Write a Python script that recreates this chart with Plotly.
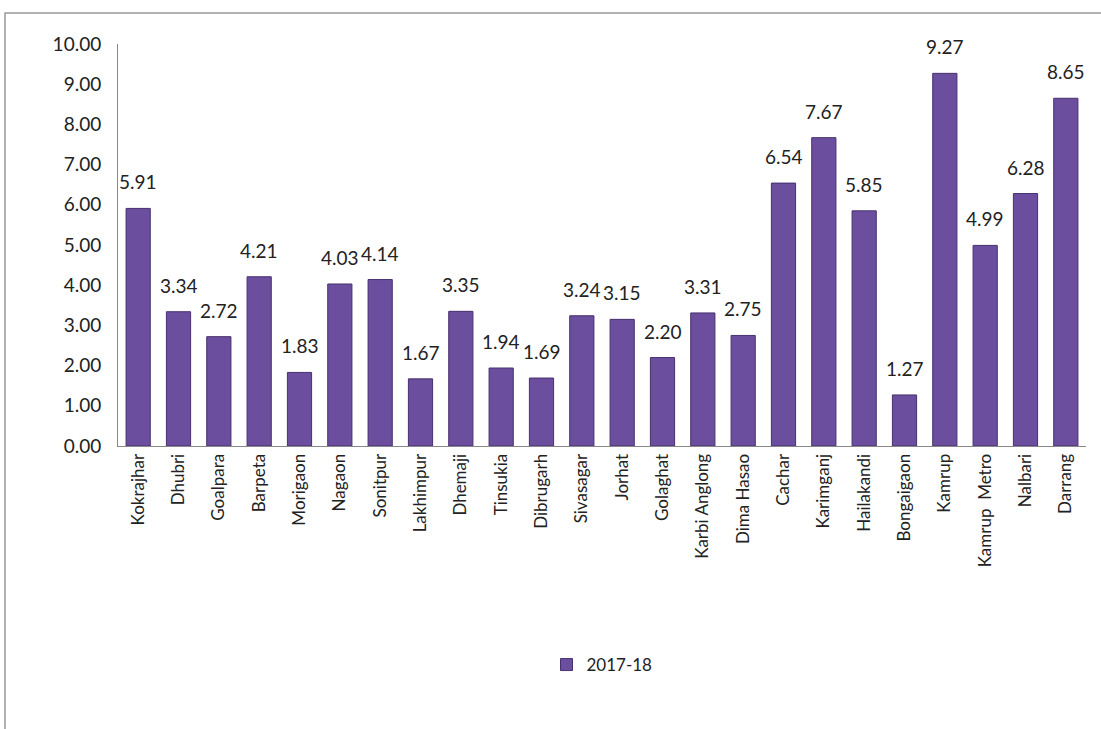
import plotly.graph_objects as go

districts = ["Kokrajhar", "Dhubri", "Goalpara", "Barpeta", "Morigaon", "Nagaon", "Sonitpur",
             "Lakhimpur", "Dhemaji", "Tinsukia", "Dibrugarh", "Sivasagar", "Jorhat", "Golaghat",
             "Karbi Anglong", "Dima Hasao", "Cachar", "Karimganj", "Hailakandi", "Bongaigaon",
             "Kamrup", "Kamrup  Metro", "Nalbari", "Darrang"]
values_2017_18 = [5.91, 3.34, 2.72, 4.21, 1.83, 4.03, 4.14, 1.67, 3.35, 1.94, 1.69, 3.24, 3.15,
                  2.20, 3.31, 2.75, 6.54, 7.67, 5.85, 1.27, 9.27, 4.99, 6.28, 8.65]
y_ticks = [0, 1, 2, 3, 4, 5, 6, 7, 8, 9, 10]

FONT = "Lato, 'Open Sans', sans-serif"

fig = go.Figure()
fig.add_trace(go.Bar(
    x=districts, y=values_2017_18, name="2017-18",
    marker=dict(color="#6C4E9F", line=dict(color="#47306E", width=1)),
))

for d, v in zip(districts, values_2017_18):
    fig.add_annotation(x=d, y=v, text=f"{v:.2f}", showarrow=False, yanchor="bottom",
                       yshift=13, font=dict(size=19, color="#222", family=FONT))

L, R, T, B = 118, 15, 44, 283
W, H = 1101, 729
pw, ph = W - L - R, H - T - B

fig.update_layout(
    width=W, height=H,
    margin=dict(l=L, r=R, t=T, b=B),
    paper_bgcolor="white", plot_bgcolor="white",
    bargap=0.4,
    showlegend=True,
    legend=dict(orientation="h", x=0.5, xanchor="center", y=-(665 - 446) / ph, yanchor="middle",
                font=dict(size=17, family=FONT, color="#222")),
    xaxis=dict(range=[-0.5, len(districts) - 0.5], showline=True, linecolor="#888", linewidth=1,
               tickangle=-90, tickfont=dict(size=17, family=FONT, color="#222"), ticks="",
               showgrid=False),
    yaxis=dict(range=[0, 10], tickvals=y_ticks, tickformat=".2f", showline=True, linecolor="#888",
               linewidth=1, showgrid=False, ticks="", ticklabelstandoff=12,
               tickfont=dict(size=19, family=FONT, color="#222"), zeroline=False),
    shapes=[dict(type="rect", xref="paper", yref="paper",
                 x0=(5 - L) / pw, x1=(W + 20 - L) / pw,
                 y0=-(H + 20 - (H - B)) / ph, y1=(H - B - 13) / ph,
                 line=dict(color="#999", width=1.5), layer="below")],
)

fig.write_html("out.html")
